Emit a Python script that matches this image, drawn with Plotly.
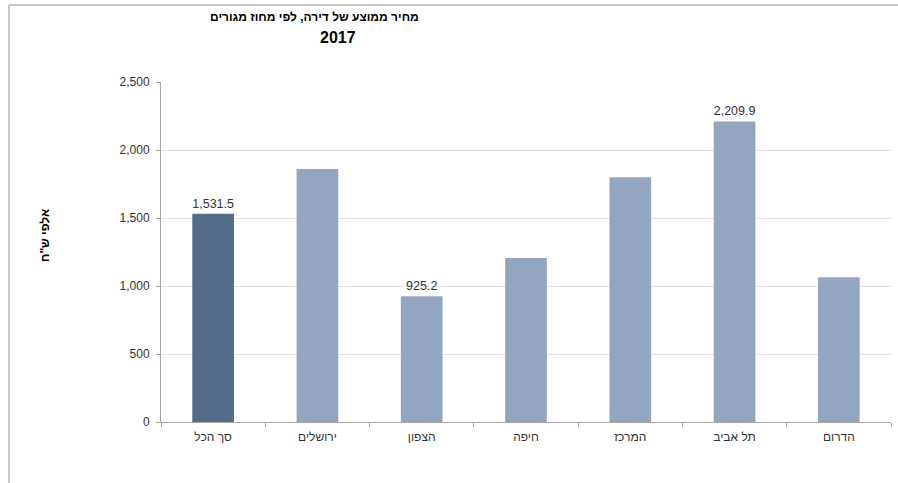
import plotly.graph_objects as go

categories = ["סך הכל", "ירושלים", "הצפון", "חיפה", "המרכז", "תל אביב", "הדרום"]
values = [1531.5, 1860, 925.2, 1205, 1800, 2209.9, 1065]
labels = ["1,531.5", "", "925.2", "", "", "2,209.9", ""]
colors = ["#556b8a", "#94a6bf", "#94a6bf", "#94a6bf", "#94a6bf", "#94a6bf", "#94a6bf"]
tick_vals = [0, 500, 1000, 1500, 2000, 2500]
tick_text = ["0", "500", "1,000", "1,500", "2,000", "2,500"]
title_line1 = "מחיר ממוצע של דירה, לפי מחוז מגורים"
title_line2 = "2017"
y_title = 'אלפי ש"ח'

FONT = "Liberation Sans, Arial, sans-serif"
L, R, T, B = 161, 891, 82, 422
PW, PH = R - L, B - T

fig = go.Figure(go.Bar(
    x=categories, y=values,
    marker=dict(color=colors, line=dict(width=0)),
    width=0.4,
    text=labels, textposition="outside", cliponaxis=False,
    textfont=dict(family=FONT, size=12.5, color="#333333"),
))

fig.update_layout(
    width=898, height=483,
    margin=dict(l=L, r=898 - R, t=T, b=483 - B),
    paper_bgcolor="white", plot_bgcolor="white",
    showlegend=False,
    font=dict(family=FONT, size=12, color="#333333"),
    xaxis=dict(
        type="category", showline=True, linecolor="#a6a6a6", linewidth=1,
        ticks="outside", tickson="boundaries", ticklen=4, tickcolor="#a6a6a6",
        ticklabelstandoff=4,
        showgrid=False, tickfont=dict(family=FONT, size=12, color="#333333"),
    ),
    yaxis=dict(
        range=[0, 2500], tickvals=tick_vals, ticktext=tick_text,
        showline=True, linecolor="#a6a6a6", linewidth=1,
        ticks="outside", ticklen=4, tickcolor="#a6a6a6",
        ticklabelstandoff=4,
        showgrid=True, gridcolor="#e3e3e3", gridwidth=1, zeroline=False,
        tickfont=dict(family=FONT, size=12, color="#333333"),
    ),
    annotations=[
        dict(text="<b>" + title_line1 + "</b>", x=(314 - L) / PW, y=(B - 17) / PH,
             xref="paper", yref="paper", showarrow=False,
             font=dict(family=FONT, size=12, color="#000000"), xanchor="center", yanchor="middle"),
        dict(text="<b>" + title_line2 + "</b>", x=(338 - L) / PW, y=(B - 37) / PH,
             xref="paper", yref="paper", showarrow=False,
             font=dict(family=FONT, size=16, color="#000000"), xanchor="center", yanchor="middle"),
        dict(text="<b>" + y_title + "</b>", x=(45 - L) / PW, y=(B - 235) / PH,
             xref="paper", yref="paper", showarrow=False, textangle=-90,
             font=dict(family=FONT, size=12, color="#000000"), xanchor="center", yanchor="middle"),
    ],
    shapes=[
        dict(type="line", xref="paper", yref="paper",
             x0=(9 - L) / PW, x1=(898 - L) / PW, y0=(B - 5) / PH, y1=(B - 5) / PH,
             line=dict(color="#c8c8c8", width=2)),
        dict(type="line", xref="paper", yref="paper",
             x0=(9 - L) / PW, x1=(9 - L) / PW, y0=(B - 5) / PH, y1=(B - 485) / PH,
             line=dict(color="#c8c8c8", width=2)),
    ],
)

fig.write_html("out.html")
